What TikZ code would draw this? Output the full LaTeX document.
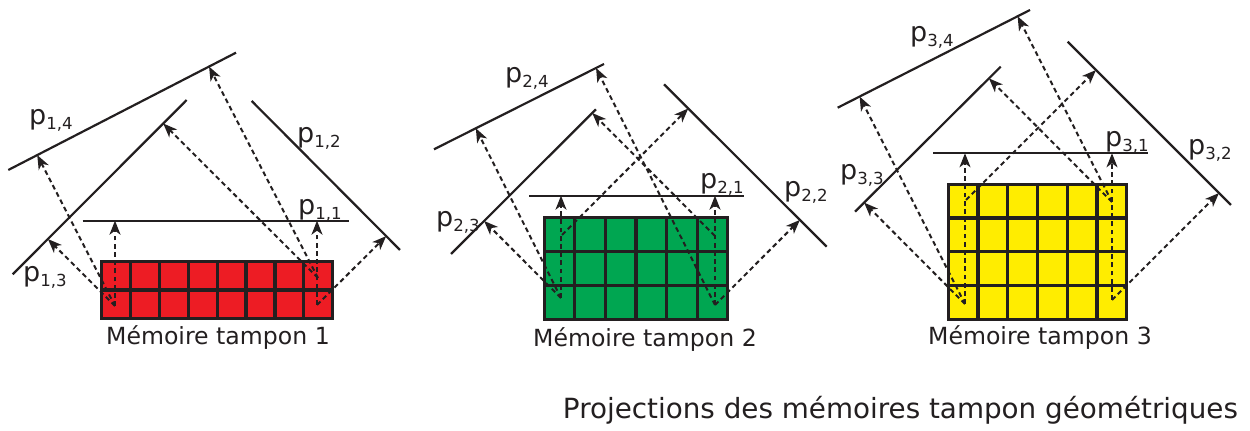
\documentclass[tikz,border=0pt]{standalone}
\usepackage{fontspec}
\setmainfont{DejaVu Sans}
\definecolor{BufRed}{RGB}{237,28,36}
\definecolor{BufGreen}{RGB}{0,166,81}
\definecolor{BufYellow}{RGB}{255,237,0}
\definecolor{Ink}{RGB}{35,31,32}
\usetikzlibrary{calc,arrows.meta}
\newcommand{\plane}[2]{p\raisebox{-0.35ex}{\fontsize{8.3}{10}\selectfont #1,#2}}

\begin{document}
\begin{tikzpicture}[x=0.5pt,y=-0.5pt,>={Stealth[length=7pt,width=5.5pt,inset=2pt]},
      plane/.style={draw=Ink,line width=1.1pt},
      proj/.style={->,draw=Ink,line width=1pt,dash pattern=on 2.4pt off 1.7pt},
      cell/.style={draw=Ink,line width=1.6pt},
      lab/.style={font=\fontsize{13.5}{16}\selectfont,text=Ink,inner sep=0pt},
      legende/.style={font=\fontsize{11.8}{14}\selectfont,text=Ink,inner sep=0pt}]
    \useasboundingbox (0,0) rectangle (1250,431);

    % memoire tampon 1 : 8 x 2
    \fill[BufRed] (101.7,261.7) rectangle (332.7,318.3);
    \foreach \i in {1,...,7} \draw[cell] ({101.7+28.875*\i},261.7) -- ++(0,56.6);
    \draw[cell] (101.7,290) -- (332.7,290);
    \draw[cell] (101.7,261.7) rectangle (332.7,318.3);

    % memoire tampon 2 : 6 x 3
    \fill[BufGreen] (544.3,217.7) rectangle (727.7,319.3);
    \foreach \i in {1,...,5} \draw[cell] ({544.3+30.567*\i},217.7) -- ++(0,101.6);
    \foreach \j in {1,2} \draw[cell] (544.3,{217.7+33.867*\j}) -- ++(183.4,0);
    \draw[cell] (544.3,217.7) rectangle (727.7,319.3);

    % memoire tampon 3 : 6 x 4
    \fill[BufYellow] (948.3,184.3) rectangle (1126.7,319.3);
    \foreach \i in {1,...,5} \draw[cell] ({948.3+29.733*\i},184.3) -- ++(0,135);
    \foreach \j in {1,2,3} \draw[cell] (948.3,{184.3+33.75*\j}) -- ++(178.4,0);
    \draw[cell] (948.3,184.3) rectangle (1126.7,319.3);

    % plans de projection
    \coordinate (p11-a) at (82.7,220.7);  \coordinate (p11-b) at (349.3,220.7);
    \coordinate (p12-a) at (251.7,101);   \coordinate (p12-b) at (400,250);
    \coordinate (p13-a) at (12.7,274.3);  \coordinate (p13-b) at (186.7,100);
    \coordinate (p14-a) at (8.3,170);     \coordinate (p14-b) at (236,52.7);
    \coordinate (p21-a) at (529.3,195.7); \coordinate (p21-b) at (744,195.7);
    \coordinate (p22-a) at (664,84.3);    \coordinate (p22-b) at (826.7,246.7);
    \coordinate (p23-a) at (451,254);     \coordinate (p23-b) at (596,109.3);
    \coordinate (p24-a) at (434,149.3);   \coordinate (p24-b) at (604,64);
    \coordinate (p31-a) at (933.3,153.3); \coordinate (p31-b) at (1148.3,153.3);
    \coordinate (p32-a) at (1067.7,41.7); \coordinate (p32-b) at (1231,205);
    \coordinate (p33-a) at (855,211.7);   \coordinate (p33-b) at (1000.7,66.7);
    \coordinate (p34-a) at (837.7,107.7); \coordinate (p34-b) at (1030,10);
    \foreach \pl in {p11,p12,p13,p14,p21,p22,p23,p24,p31,p32,p33,p34}
      \draw[plane] (\pl-a) -- (\pl-b);

    % cellules projetees
    \coordinate (s1a) at (115,306);  \coordinate (s1b) at (317,305);  \coordinate (s1c) at (318,278);
    \coordinate (s2a) at (561,298);  \coordinate (s2b) at (562,235);
    \coordinate (s2c) at (715,236);  \coordinate (s2d) at (715,305);
    \coordinate (s3a) at (965,304);  \coordinate (s3b) at (966,200);
    \coordinate (s3c) at (1112,202); \coordinate (s3d) at (1112,300);
    \foreach \s/\pl in {s1a/p11,s1a/p13,s1a/p14,s1b/p11,s1b/p12,s1c/p13,s1c/p14,
                        s2a/p21,s2a/p23,s2a/p24,s2b/p22,s2c/p23,s2d/p21,s2d/p24,s2d/p22,
                        s3a/p31,s3a/p33,s3a/p34,s3b/p32,s3c/p33,s3c/p34,s3d/p31,s3d/p32}
      \draw[proj] (\s) -- ($(\pl-a)!(\s)!(\pl-b)$);

    % etiquettes
    \node[lab] (l11) at (320,210) {\plane{1}{1}};
    \node[lab] (l12) at (319,138) {\plane{1}{2}};
    \node[lab] (l13) at (45,277)  {\plane{1}{3}};
    \node[lab] (l14) at (51,120)  {\plane{1}{4}};
    \node[lab] (l21) at (722,184) {\plane{2}{1}};
    \node[lab] (l22) at (806,192) {\plane{2}{2}};
    \node[lab] (l23) at (458,222) {\plane{2}{3}};
    \node[lab] (l24) at (527,78)  {\plane{2}{4}};
    \node[lab] (l31) at (1127,142) {\plane{3}{1}};
    \node[lab] (l32) at (1210,150) {\plane{3}{2}};
    \node[lab] (l33) at (862,175)  {\plane{3}{3}};
    \node[lab] (l34) at (932,37)   {\plane{3}{4}};

    \node[legende] (t1) at (218,338)  {Mémoire tampon 1};
    \node[legende] (t2) at (645,340)  {Mémoire tampon 2};
    \node[legende] (t3) at (1040,338) {Mémoire tampon 3};
    \node[legende,font=\fontsize{13.9}{17}\selectfont] (titre) at (900.5,410)
      {Projections des mémoires tampon géométriques};
  \end{tikzpicture}
\end{document}
